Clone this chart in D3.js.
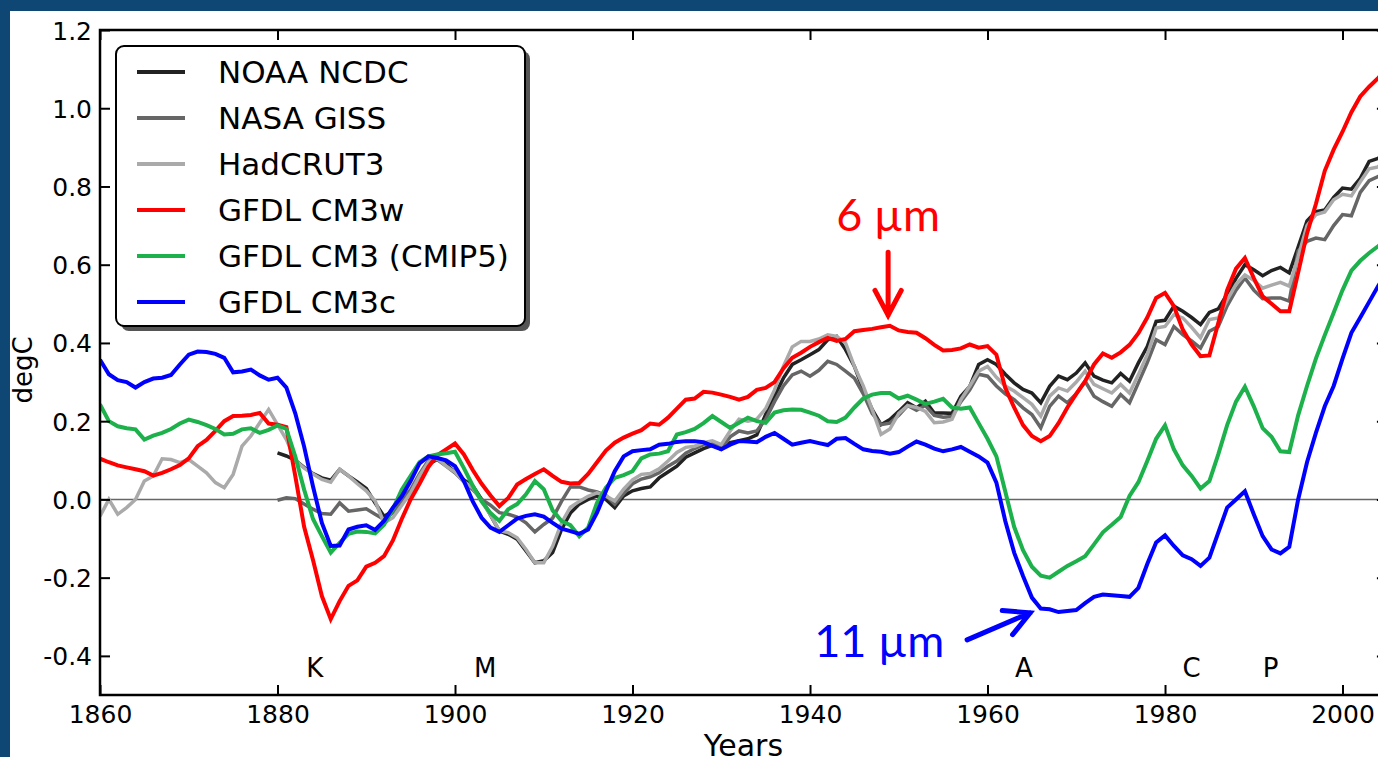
<!DOCTYPE html>
<html>
<head>
<meta charset="utf-8">
<script src="https://cdnjs.cloudflare.com/ajax/libs/d3/7.8.5/d3.min.js"></script>
<style>
  body { margin: 0; background: #0e4674; }
  svg { display: block; font-family: "DejaVu Sans", sans-serif; }
</style>
</head>
<body>
<svg id="chart" width="1378" height="757"></svg>
<script>
/* Tick values and labels */
let xTicks = [1860, 1880, 1900, 1920, 1940, 1960, 1980, 2000];
let yTicks = [-0.4, -0.2, 0.0, 0.2, 0.4, 0.6, 0.8, 1.0, 1.2];
let yTickLabels = ['-0.4', '-0.2', '0.0', '0.2', '0.4', '0.6', '0.8', '1.0', '1.2'];

// Eruptions marked along the bottom (Krakatoa, Santa Maria, Agung, El Chichon, Pinatubo)
let eruptionLabels = ['K', 'M', 'A', 'C', 'P'];
let eruptionYears = [1884.2, 1903.4, 1964.1, 1983.0, 1991.9];

/* Annual anomalies (degC), one value per year from the start year */
let obsStart = 1880;
let modelStart = 1860;

let noaaNcdc = [
  0.119, 0.111, 0.100, 0.082, 0.066, 0.055, 0.049, 0.077, 0.060, 0.045,
  0.028, -0.009, -0.043, -0.030, -0.004, 0.021, 0.060, 0.090, 0.102, 0.090,
  0.070, 0.050, 0.035, 0.000, -0.040, -0.081, -0.089, -0.102, -0.132, -0.162,
  -0.157, -0.136, -0.077, -0.035, -0.012, 0.000, 0.009, 0.000, -0.021, 0.009,
  0.022, 0.028, 0.032, 0.055, 0.070, 0.085, 0.108, 0.119, 0.130, 0.138,
  0.128, 0.145, 0.150, 0.155, 0.165, 0.217, 0.264, 0.310, 0.345, 0.357,
  0.370, 0.383, 0.408, 0.417, 0.383, 0.340, 0.281, 0.230, 0.191, 0.204,
  0.225, 0.247, 0.234, 0.251, 0.221, 0.221, 0.220, 0.264, 0.289, 0.345,
  0.357, 0.345, 0.320, 0.298, 0.281, 0.272, 0.247, 0.289, 0.315, 0.306,
  0.323, 0.349, 0.315, 0.305, 0.298, 0.322, 0.302, 0.349, 0.391, 0.455,
  0.458, 0.494, 0.481, 0.465, 0.447, 0.478, 0.487, 0.525, 0.565, 0.600,
  0.587, 0.572, 0.585, 0.593, 0.579, 0.645, 0.712, 0.736, 0.740, 0.772,
  0.796, 0.793, 0.821, 0.864, 0.872, 0.885
];

let nasaGiss = [
  -0.002, 0.004, 0.002, -0.012, -0.025, -0.036, -0.038, -0.009, -0.030, -0.027,
  -0.024, -0.038, -0.051, -0.034, 0.000, 0.025, 0.065, 0.100, 0.102, 0.085,
  0.068, 0.045, 0.025, 0.000, -0.015, -0.034, -0.038, -0.045, -0.060, -0.083,
  -0.064, -0.048, -0.005, 0.032, 0.032, 0.024, 0.019, 0.010, -0.012, 0.015,
  0.040, 0.052, 0.058, 0.068, 0.085, 0.098, 0.118, 0.130, 0.140, 0.145,
  0.130, 0.160, 0.175, 0.170, 0.175, 0.205, 0.250, 0.290, 0.318, 0.328,
  0.315, 0.330, 0.353, 0.345, 0.328, 0.310, 0.270, 0.220, 0.191, 0.195,
  0.215, 0.240, 0.228, 0.240, 0.215, 0.210, 0.212, 0.250, 0.280, 0.320,
  0.315, 0.290, 0.270, 0.255, 0.234, 0.217, 0.183, 0.238, 0.264, 0.247,
  0.270, 0.302, 0.264, 0.250, 0.238, 0.268, 0.247, 0.298, 0.350, 0.408,
  0.396, 0.442, 0.421, 0.405, 0.387, 0.430, 0.442, 0.495, 0.535, 0.566,
  0.535, 0.513, 0.515, 0.515, 0.507, 0.635, 0.660, 0.668, 0.664, 0.700,
  0.728, 0.725, 0.785, 0.815, 0.825, 0.840
];

let hadcrut3 = [
  -0.043, 0.000, -0.038, -0.021, 0.000, 0.047, 0.060, 0.104, 0.102, 0.094,
  0.102, 0.085, 0.068, 0.043, 0.030, 0.064, 0.136, 0.162, 0.196, 0.230,
  0.191, 0.153, 0.100, 0.080, 0.065, 0.051, 0.044, 0.077, 0.060, 0.040,
  0.022, -0.004, -0.060, -0.047, -0.015, 0.017, 0.060, 0.095, 0.105, 0.085,
  0.070, 0.045, 0.030, -0.005, -0.040, -0.080, -0.085, -0.098, -0.128, -0.162,
  -0.162, -0.120, -0.060, -0.020, -0.005, 0.008, 0.017, 0.009, -0.004, 0.026,
  0.050, 0.064, 0.066, 0.078, 0.098, 0.120, 0.133, 0.136, 0.145, 0.150,
  0.140, 0.175, 0.205, 0.200, 0.205, 0.232, 0.280, 0.340, 0.390, 0.404,
  0.404, 0.410, 0.421, 0.417, 0.400, 0.340, 0.290, 0.230, 0.166, 0.180,
  0.220, 0.240, 0.235, 0.225, 0.196, 0.198, 0.205, 0.255, 0.290, 0.328,
  0.340, 0.312, 0.290, 0.277, 0.260, 0.243, 0.213, 0.264, 0.285, 0.277,
  0.300, 0.328, 0.294, 0.283, 0.272, 0.294, 0.272, 0.319, 0.370, 0.438,
  0.442, 0.472, 0.464, 0.440, 0.413, 0.460, 0.464, 0.510, 0.550, 0.574,
  0.560, 0.540, 0.548, 0.555, 0.545, 0.620, 0.700, 0.728, 0.735, 0.766,
  0.780, 0.776, 0.812, 0.845, 0.850, 0.870
];

let cm3w = [
  0.104, 0.095, 0.087, 0.082, 0.077, 0.072, 0.061, 0.068, 0.077, 0.088,
  0.105, 0.136, 0.152, 0.175, 0.200, 0.213, 0.214, 0.216, 0.221, 0.194,
  0.191, 0.185, 0.060, -0.070, -0.155, -0.247, -0.306, -0.260, -0.221, -0.207,
  -0.172, -0.162, -0.145, -0.105, -0.050, 0.000, 0.040, 0.083, 0.113, 0.128,
  0.143, 0.115, 0.075, 0.040, 0.010, -0.017, 0.004, 0.038, 0.052, 0.065,
  0.077, 0.060, 0.045, 0.041, 0.042, 0.065, 0.095, 0.125, 0.145, 0.158,
  0.168, 0.177, 0.194, 0.191, 0.209, 0.232, 0.255, 0.258, 0.275, 0.273,
  0.268, 0.262, 0.255, 0.262, 0.280, 0.285, 0.300, 0.335, 0.362, 0.375,
  0.390, 0.402, 0.413, 0.405, 0.410, 0.430, 0.433, 0.436, 0.440, 0.444,
  0.432, 0.428, 0.426, 0.412, 0.395, 0.381, 0.382, 0.386, 0.396, 0.388,
  0.392, 0.370, 0.285, 0.235, 0.190, 0.162, 0.149, 0.162, 0.195, 0.235,
  0.270, 0.302, 0.345, 0.373, 0.362, 0.376, 0.395, 0.425, 0.465, 0.515,
  0.528, 0.494, 0.434, 0.396, 0.366, 0.368, 0.451, 0.535, 0.590, 0.617,
  0.566, 0.519, 0.500, 0.481, 0.481, 0.580, 0.680, 0.755, 0.840, 0.894,
  0.940, 0.990, 1.030, 1.055, 1.077, 1.100
];

let cm3cmip5 = [
  0.243, 0.200, 0.187, 0.182, 0.179, 0.153, 0.163, 0.170, 0.180, 0.194,
  0.204, 0.198, 0.190, 0.180, 0.166, 0.168, 0.179, 0.182, 0.170, 0.178,
  0.189, 0.180, 0.110, 0.025, -0.050, -0.094, -0.136, -0.111, -0.088, -0.082,
  -0.083, -0.087, -0.065, -0.025, 0.025, 0.060, 0.095, 0.110, 0.115, 0.118,
  0.122, 0.080, 0.035, -0.005, -0.035, -0.055, -0.025, -0.012, 0.013, 0.047,
  0.026, -0.028, -0.055, -0.066, -0.094, -0.072, -0.009, 0.030, 0.055, 0.062,
  0.072, 0.105, 0.115, 0.117, 0.123, 0.166, 0.172, 0.180, 0.195, 0.213,
  0.198, 0.183, 0.196, 0.209, 0.200, 0.196, 0.222, 0.228, 0.230, 0.229,
  0.222, 0.214, 0.200, 0.198, 0.209, 0.235, 0.258, 0.268, 0.272, 0.272,
  0.258, 0.265, 0.255, 0.244, 0.250, 0.257, 0.235, 0.232, 0.235, 0.195,
  0.155, 0.110, 0.020, -0.070, -0.130, -0.172, -0.195, -0.200, -0.185, -0.170,
  -0.158, -0.145, -0.115, -0.084, -0.065, -0.045, 0.009, 0.044, 0.098, 0.155,
  0.189, 0.128, 0.087, 0.060, 0.028, 0.047, 0.115, 0.190, 0.250, 0.288,
  0.238, 0.182, 0.160, 0.123, 0.121, 0.215, 0.290, 0.360, 0.420, 0.477,
  0.535, 0.585, 0.610, 0.630, 0.647, 0.665
];

let cm3c = [
  0.357, 0.320, 0.305, 0.300, 0.286, 0.300, 0.309, 0.311, 0.318, 0.345,
  0.370, 0.378, 0.377, 0.372, 0.362, 0.325, 0.327, 0.332, 0.317, 0.306,
  0.311, 0.286, 0.220, 0.135, 0.033, -0.060, -0.119, -0.118, -0.077, -0.070,
  -0.066, -0.078, -0.055, -0.021, 0.008, 0.047, 0.092, 0.110, 0.106, 0.100,
  0.085, 0.047, -0.005, -0.047, -0.072, -0.083, -0.066, -0.049, -0.042, -0.038,
  -0.044, -0.060, -0.075, -0.081, -0.088, -0.077, -0.034, 0.021, 0.072, 0.110,
  0.123, 0.126, 0.128, 0.140, 0.142, 0.147, 0.149, 0.149, 0.146, 0.137,
  0.128, 0.140, 0.149, 0.148, 0.146, 0.160, 0.170, 0.155, 0.140, 0.145,
  0.149, 0.144, 0.139, 0.155, 0.157, 0.142, 0.128, 0.124, 0.122, 0.117,
  0.121, 0.135, 0.148, 0.140, 0.130, 0.123, 0.128, 0.134, 0.122, 0.110,
  0.094, 0.043, -0.055, -0.136, -0.196, -0.251, -0.279, -0.281, -0.288, -0.285,
  -0.283, -0.265, -0.249, -0.243, -0.245, -0.247, -0.249, -0.226, -0.165, -0.110,
  -0.092, -0.119, -0.143, -0.153, -0.170, -0.149, -0.085, -0.021, 0.000, 0.021,
  -0.038, -0.094, -0.128, -0.138, -0.121, 0.000, 0.095, 0.170, 0.238, 0.290,
  0.360, 0.426, 0.465, 0.505, 0.545, 0.580
];

let seriesNames = ['NOAA NCDC', 'NASA GISS', 'HadCRUT3', 'GFDL CM3w', 'GFDL CM3 (CMIP5)', 'GFDL CM3c'];

setUp();

function setUp(){
    let svg = d3.select('#chart');

    // Series table built from the arrays above, in plotting (and legend) order.
    let series = [
        {name: seriesNames[0], start: obsStart, values: noaaNcdc, color: '#222222', width: 3.5},
        {name: seriesNames[1], start: obsStart, values: nasaGiss, color: '#666666', width: 3.5},
        {name: seriesNames[2], start: modelStart, values: hadcrut3, color: '#aaaaaa', width: 3.5},
        {name: seriesNames[3], start: modelStart, values: cm3w, color: '#ff0000', width: 4},
        {name: seriesNames[4], start: modelStart, values: cm3cmip5, color: '#1db14b', width: 4},
        {name: seriesNames[5], start: modelStart, values: cm3c, color: '#0000ff', width: 4}
    ];

    // Blue frame round the figure (left and top edges show)
    svg.append('rect').attr('width', 1378).attr('height', 757).attr('fill', '#0e4674');
    svg.append('rect').attr('x', 10).attr('y', 11).attr('width', 1368).attr('height', 746).attr('fill', '#ffffff');

    drawChart(svg, series);
}

function drawChart(svg, series){
    let left = 100, top = 30, bottom = 695, right = 1386.9;

    let xScale = d3.scaleLinear().domain([1860, 2005]).range([left, right]);
    let yScale = d3.scaleLinear().domain([-0.5, 1.2]).range([bottom, top]);

    svg.append('clipPath').attr('id', 'plotclip')
        .append('rect')
        .attr('x', left).attr('y', top)
        .attr('width', right - left).attr('height', bottom - top);

    /* Thin zero line */
    svg.append('line')
        .attr('x1', xScale(1860)).attr('x2', xScale(2005))
        .attr('y1', yScale(0)).attr('y2', yScale(0))
        .attr('stroke', '#666').attr('stroke-width', 1.5);

    let line = d3.line()
        .x(d => xScale(d.year))
        .y(d => yScale(d.value));

    let plot = svg.append('g').attr('clip-path', 'url(#plotclip)');
    series.forEach(function(s){
        let points = s.values.map((v, i) => ({year: s.start + i, value: v}));
        plot.append('path')
            .datum(points)
            .attr('d', line)
            .attr('fill', 'none')
            .attr('stroke', s.color)
            .attr('stroke-width', s.width)
            .attr('stroke-linejoin', 'miter');
    });

    /* Axes: ticks point inward on all four sides */
    let fontSize = 25;
    let gx = svg.append('g')
        .attr('transform', 'translate(0,' + bottom + ')')
        .call(d3.axisBottom(xScale).tickValues(xTicks).tickFormat(d3.format('d'))
            .tickSizeInner(-10).tickSizeOuter(0).tickPadding(10));
    let gxTop = svg.append('g')
        .attr('transform', 'translate(0,' + top + ')')
        .call(d3.axisTop(xScale).tickValues(xTicks).tickFormat('')
            .tickSizeInner(-10).tickSizeOuter(0));
    let gy = svg.append('g')
        .attr('transform', 'translate(' + left + ',0)')
        .call(d3.axisLeft(yScale).tickValues(yTicks)
            .tickFormat((d, i) => yTickLabels[i])
            .tickSizeInner(-10).tickSizeOuter(0).tickPadding(8));
    let gyRight = svg.append('g')
        .attr('transform', 'translate(' + right + ',0)')
        .call(d3.axisRight(yScale).tickValues(yTicks).tickFormat('')
            .tickSizeInner(-10).tickSizeOuter(0));

    [gx, gxTop, gy, gyRight].forEach(function(g){
        g.select('.domain').remove();
        g.selectAll('.tick line').attr('stroke', '#000').attr('stroke-width', 2);
        g.selectAll('.tick text')
            .attr('fill', '#000')
            .attr('font-size', fontSize)
            .attr('font-family', '"DejaVu Sans", sans-serif');
    });
    gy.selectAll('.tick text').attr('dy', '0.36em');

    // Spines
    svg.append('rect')
        .attr('x', left).attr('y', top)
        .attr('width', right - left).attr('height', bottom - top)
        .attr('fill', 'none').attr('stroke', '#000').attr('stroke-width', 2.5);

    /* Axis titles */
    svg.append('text')
        .attr('transform', 'translate(32,370) rotate(-90)')
        .attr('text-anchor', 'middle')
        .attr('font-size', 26)
        .text('degC');
    svg.append('text')
        .attr('x', (left + right) / 2).attr('y', 756)
        .attr('text-anchor', 'middle')
        .attr('font-size', 30)
        .text('Years');

    /* Eruption letters */
    svg.append('g').selectAll('text')
        .data(eruptionLabels)
        .enter()
        .append('text')
            .attr('x', (d, i) => xScale(eruptionYears[i]))
            .attr('y', yScale(-0.455))
            .attr('text-anchor', 'middle')
            .attr('font-size', 26)
            .text(d => d);

    drawAnnotations(svg, xScale, yScale);
    drawLegend(svg, series);
}

function drawAnnotations(svg, xScale, yScale){
    // Label position, arrow tail and arrow tip, in data coordinates
    let notes = [
        {text: '6 \u00b5m', color: '#ff0000', at: [1948.8, 0.686], tail: [1948.8, 0.632], tip: [1948.8, 0.471]},
        {text: '11 \u00b5m', color: '#0000ff', at: [1947.8, -0.403], tail: [1957.7, -0.359], tip: [1964.8, -0.290]}
    ];

    notes.forEach(function(n){
        svg.append('text')
            .attr('x', xScale(n.at[0])).attr('y', yScale(n.at[1]))
            .attr('text-anchor', 'middle')
            .attr('font-family', 'Lato, "Open Sans", sans-serif')
            .attr('font-size', 45)
            .attr('fill', n.color)
            .text(n.text);

        let x1 = xScale(n.tail[0]), y1 = yScale(n.tail[1]);
        let x2 = xScale(n.tip[0]), y2 = yScale(n.tip[1]);
        let angle = Math.atan2(y2 - y1, x2 - x1);
        let arm = 28, spread = 28 * Math.PI / 180;
        let a1 = [x2 - arm * Math.cos(angle - spread), y2 - arm * Math.sin(angle - spread)];
        let a2 = [x2 - arm * Math.cos(angle + spread), y2 - arm * Math.sin(angle + spread)];

        let p = d3.path();
        p.moveTo(x1, y1); p.lineTo(x2, y2);
        p.moveTo(a1[0], a1[1]); p.lineTo(x2, y2); p.lineTo(a2[0], a2[1]);
        svg.append('path')
            .attr('d', p.toString())
            .attr('fill', 'none')
            .attr('stroke', n.color)
            .attr('stroke-width', 5)
            .attr('stroke-linecap', 'round')
            .attr('stroke-linejoin', 'miter');
    });
}

function drawLegend(svg, series){
    let legend = svg.append('g');
    let bx = 116, by = 46, bw = 409, bh = 280;

    /* Shadow, then the box */
    legend.append('rect')
        .attr('x', bx + 5).attr('y', by + 5).attr('width', bw).attr('height', bh)
        .attr('rx', 8).attr('fill', '#555');
    legend.append('rect')
        .attr('x', bx).attr('y', by).attr('width', bw).attr('height', bh)
        .attr('rx', 8).attr('fill', '#fff')
        .attr('stroke', '#000').attr('stroke-width', 2);

    let rows = legend.selectAll('g.entry')
        .data(series)
        .enter()
        .append('g')
            .attr('class', 'entry')
            .attr('transform', (d, i) => 'translate(0,' + (72 + i * 46) + ')');

    rows.append('line')
        .attr('x1', 137).attr('x2', 185)
        .attr('stroke', d => d.color)
        .attr('stroke-width', 4);
    rows.append('text')
        .attr('x', 218).attr('y', 11)
        .attr('font-size', 31)
        .text(d => d.name);
}
</script>
</body>
</html>
